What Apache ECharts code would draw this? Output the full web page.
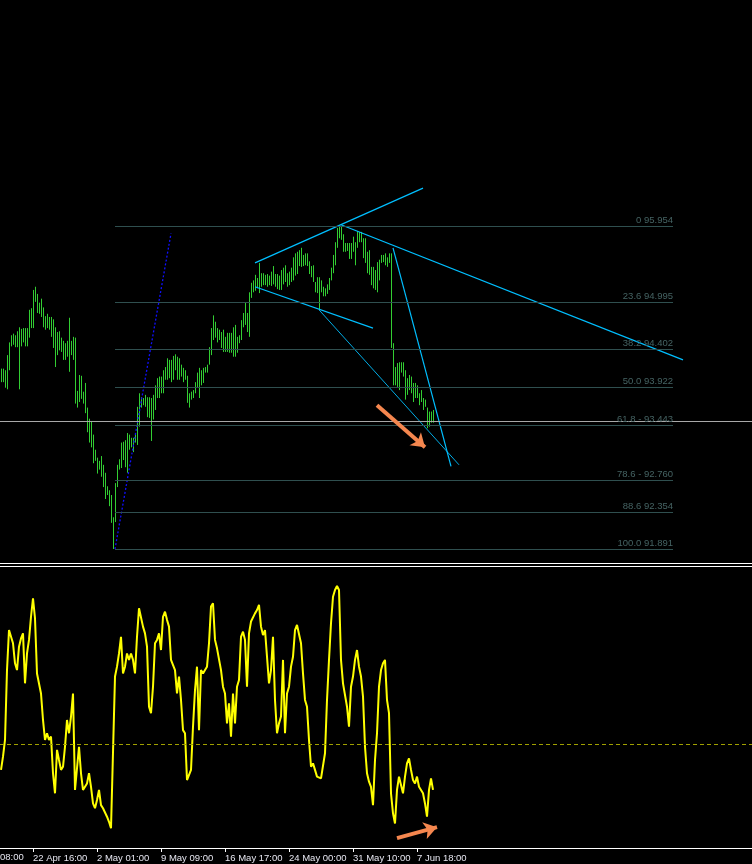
<!DOCTYPE html>
<html>
<head>
<meta charset="utf-8">
<script src="https://cdn.jsdelivr.net/npm/echarts@6/dist/echarts.min.js"></script>
<style>
html,body{margin:0;padding:0;background:#000;}
#chart{width:752px;height:864px;}
</style>
</head>
<body>
<div id="chart"></div>
<script>
// ---- data (bar highs / lows) ----
const barHigh = [
94.16,94.16,94.14,94.33,94.49,94.58,94.60,94.58,94.63,94.68,
94.66,94.67,94.67,94.67,94.90,94.92,95.15,95.19,95.10,94.99,
95.04,94.93,94.82,94.85,94.81,94.81,94.78,94.68,94.62,94.63,
94.55,94.51,94.48,94.51,94.80,94.51,94.56,94.55,93.88,94.08,
94.07,93.87,93.98,93.67,93.53,93.49,93.33,93.14,93.04,93.00,
93.06,92.95,92.85,92.68,92.63,92.57,92.29,92.72,92.95,93.02,
93.23,93.24,93.26,93.35,93.33,93.29,93.29,93.35,93.68,93.85,
93.80,93.79,93.83,93.80,93.80,93.79,93.83,93.95,94.04,94.06,
94.06,94.14,94.18,94.29,94.27,94.27,94.32,94.34,94.31,94.29,
94.21,94.17,94.14,94.07,93.85,93.87,93.89,93.99,94.11,94.17,
94.14,94.17,94.18,94.21,94.43,94.67,94.83,94.75,94.67,94.65,
94.62,94.65,94.56,94.61,94.61,94.61,94.68,94.71,94.56,94.58,
94.77,94.86,94.99,94.86,95.12,95.24,95.27,95.34,95.30,95.49,
95.36,95.36,95.34,95.35,95.33,95.38,95.45,95.35,95.35,95.33,
95.40,95.43,95.46,95.36,95.38,95.43,95.56,95.61,95.63,95.65,
95.68,95.59,95.61,95.61,95.51,95.45,95.46,95.25,95.31,95.31,
95.27,95.19,95.17,95.22,95.30,95.43,95.59,95.75,95.93,95.95,
95.954,95.85,95.74,95.74,95.74,95.74,95.82,95.75,95.89,95.88,
95.88,95.80,95.80,95.63,95.65,95.44,95.44,95.40,95.50,95.53,
95.59,95.59,95.61,95.56,95.61,95.61,94.48,94.18,94.23,94.24,
94.24,94.24,94.14,94.04,94.08,94.06,93.98,93.98,93.95,93.85,
93.89,93.79,93.77,93.67,93.62,93.62,93.64
];
const barLow = [
93.99,93.99,93.92,93.90,94.14,94.44,94.46,94.43,94.43,93.90,
94.44,94.49,94.44,94.44,94.55,94.67,94.67,95.00,94.86,94.85,
94.81,94.68,94.65,94.67,94.65,94.56,94.42,94.18,94.33,94.39,
94.37,94.27,94.27,94.31,94.12,94.33,94.27,93.72,93.67,93.74,
93.78,93.72,93.60,93.36,93.23,93.17,92.97,93.00,92.84,92.89,
92.80,92.67,92.52,92.57,92.43,92.22,91.891,92.23,92.67,92.89,
92.91,93.01,92.92,92.85,93.14,93.17,93.11,93.23,93.20,93.43,
93.67,93.70,93.68,93.55,93.54,93.25,93.52,93.64,93.79,93.79,
93.85,93.85,94.02,94.02,94.04,93.99,94.02,94.14,94.02,94.02,
94.06,93.99,94.02,93.73,93.67,93.77,93.79,93.85,93.92,93.79,
93.95,93.98,94.11,94.11,94.21,94.33,94.52,94.55,94.49,94.52,
94.42,94.37,94.37,94.37,94.36,94.36,94.31,94.31,94.36,94.48,
94.52,94.68,94.71,94.62,94.56,95.05,95.12,95.14,95.17,95.11,
95.19,95.21,95.21,95.19,95.21,95.20,95.22,95.19,95.16,95.15,
95.15,95.22,95.25,95.19,95.21,95.25,95.27,95.33,95.35,95.45,
95.44,95.45,95.46,95.45,95.35,95.31,95.25,95.12,95.11,94.90,
95.12,95.07,95.07,95.10,95.15,95.27,95.36,95.46,95.68,95.80,
95.78,95.63,95.63,95.64,95.54,95.54,95.63,95.46,95.68,95.75,
95.75,95.55,95.49,95.36,95.34,95.21,95.17,95.15,95.12,95.27,
95.49,95.50,95.46,95.44,95.49,94.42,93.95,93.95,93.93,93.89,
94.11,94.06,93.77,93.83,93.89,93.85,93.74,93.79,93.79,93.70,
93.74,93.64,93.68,93.41,93.43,93.48,93.48
];
// oscillator (lower panel) values
const oscValues = [
27.7,32.4,38.3,63.1,77.3,77.9,72.6,65.5,63.1,71.4,
74.3,76.1,58.4,69.0,73.8,82.0,88.5,81.4,61.9,61.3,
54.8,45.4,38.3,40.7,38.3,39.5,26.5,19.4,34.8,31.2,
27.7,28.8,35.9,45.4,40.7,46.6,54.8,20.6,20.6,35.9,
26.5,20.6,20.6,22.9,26.5,21.7,15.8,14.1,17.0,20.6,
15.2,14.1,13.5,11.1,9.3,7.0,7.0,60.8,64.3,69.0,
74.9,61.9,64.3,69.0,66.7,69.0,66.7,61.9,74.9,85.0,
85.0,78.5,76.1,71.4,50.1,47.8,57.2,72.6,73.8,76.1,
70.2,82.0,83.8,80.9,78.5,66.7,66.7,63.1,54.8,60.8,
52.5,41.8,40.7,24.1,24.1,27.7,43.0,56.0,64.3,41.8,
63.1,61.9,63.1,64.3,72.6,85.6,86.8,73.8,70.8,71.4,
63.1,57.2,54.8,44.2,51.3,39.5,54.8,44.2,57.2,59.6,
74.9,76.7,73.8,57.2,76.1,80.3,80.9,83.2,84.4,86.2,
78.5,75.5,77.3,76.7,58.4,63.1,74.9,52.5,40.7,44.2,
46.6,66.7,40.7,54.8,57.2,64.3,67.8,77.3,79.1,79.1,
72.6,61.9,52.5,50.1,38.3,28.8,30.0,27.7,25.3,25.3,
24.7,24.7,33.6,52.5,66.7,79.7,89.1,91.5,92.9,91.5,
66.7,58.4,58.4,50.1,43.0,57.2,60.8,66.7,70.2,64.3,
60.8,53.7,35.9,26.5,23.5,21.7,15.2,31.2,40.7,57.2,
63.1,65.5,66.7,52.5,47.8,19.4,12.3,8.7,20.6,25.3,
25.9,19.4,25.3,30.0,31.8,27.7,24.1,22.9,25.3,21.7,
21.2,19.4,15.8,11.1,20.6,24.7,20.6
];
const oscLevel = 36.9;
const currentPrice = 93.50;

// Fibonacci retracement
const fibLevels = ['0', '23.6', '38.2', '50.0', '61.8', '78.6', '88.6', '100.0'];
const fibPrices = [95.954, 94.995, 94.402, 93.922, 93.443, 92.760, 92.354, 91.891];
const fibSeps   = [' ', ' ', ' ', ' ', ' - ', ' - ', ' ', ' '];
const fibStartIdx = 57, fibEndIdx = 336;

// trend lines [barIndex, price]
const upperChannel = [[127, 95.49], [211, 96.43]];
const lowerChannel = [[127, 95.19], [186, 94.67]];
const longDownLine = [[170, 95.97], [341, 94.27]];
const steepDownLine = [[196, 95.68], [225, 92.93]];
const wedgeLine = [[159, 94.90], [229, 92.95]];
const fibDiagonal = [[57, 91.891], [85, 95.86]];
const priceArrow = [[188, 93.70], [212, 93.17]];
const oscArrow = [[198, 3.5], [218, 7.4]];

// time axis
const slotCount = 376;
const tickIndex = [16, 48, 80, 112, 144, 176, 208];
const tickLabels = ['22 Apr 16:00', '2 May 01:00', '9 May 09:00', '16 May 17:00', '24 May 00:00', '31 May 10:00', '7 Jun 18:00'];
const cutLabel = '08:00';

const cats = [];
for (let i = 0; i < slotCount; i++) cats.push(String(i));

const FONT = 'Liberation Sans';
const chart = echarts.init(document.getElementById('chart'), null, {renderer: 'canvas'});

const cyan = '#00bfff';
function trend(name, data, color, width, type) {
  return {
    name, type: 'line', xAxisIndex: 0, yAxisIndex: 0, data,
    showSymbol: false, symbol: 'none', silent: true, z: 4,
    lineStyle: {color, width, type: type || 'solid'}
  };
}

const fibMark = fibPrices.map((p, k) => [
  {coord: [fibStartIdx, p], name: fibLevels[k] + fibSeps[k] + p.toFixed(3)},
  {coord: [fibEndIdx, p]}
]);

const option = {
  backgroundColor: '#000',
  animation: false,
  textStyle: {fontFamily: FONT},
  grid: [
    {left: 0, right: 0, top: 0, height: 563},
    {left: 0, right: 0, top: 566, height: 282}
  ],
  xAxis: [
    {gridIndex: 0, type: 'category', data: cats, boundaryGap: true,
     axisLine: {show: true, lineStyle: {color: '#ffffff', width: 1}},
     axisTick: {show: false}, axisLabel: {show: false}, splitLine: {show: false}},
    {gridIndex: 1, type: 'category', data: cats, boundaryGap: true, position: 'bottom',
     axisLine: {show: true, lineStyle: {color: '#ffffff', width: 1}},
     axisTick: {show: true, alignWithLabel: true, length: 4, lineStyle: {color: '#ffffff'},
       interval: (idx) => tickIndex.indexOf(idx) >= 0},
     axisLabel: {show: true, align: 'left', margin: 5, color: '#e6e6f0', fontSize: 9.5, fontFamily: FONT,
       interval: (idx) => tickIndex.indexOf(idx) >= 0,
       formatter: (v, idx) => { const k = tickIndex.indexOf(idx); return k >= 0 ? tickLabels[k] : ''; }},
     splitLine: {show: false}},
    {gridIndex: 1, type: 'category', data: cats, boundaryGap: true, position: 'top',
     axisLine: {show: true, lineStyle: {color: '#ffffff', width: 1}},
     axisTick: {show: false}, axisLabel: {show: false}, splitLine: {show: false}}
  ],
  yAxis: [
    {gridIndex: 0, type: 'value', min: 91.715, max: 98.797, show: false},
    {gridIndex: 1, type: 'value', min: 0, max: 100, show: false}
  ],
  graphic: [
    {type: 'text', left: 0, top: 852, silent: true,
     style: {text: cutLabel, fill: '#e6e6f0', font: '9.5px ' + FONT}}
  ],
  series: [
    {
      name: 'bars', type: 'custom', xAxisIndex: 0, yAxisIndex: 0, z: 3,
      data: barHigh.map((h, k) => [k, barLow[k], h]),
      encode: {x: 0, y: [1, 2]},
      renderItem: function (params, api) {
        const i = api.value(0);
        const lo = api.coord([i, api.value(1)]);
        const hi = api.coord([i, api.value(2)]);
        return {type: 'line',
          shape: {x1: lo[0] + 0.5, y1: lo[1], x2: hi[0] + 0.5, y2: hi[1]},
          style: {stroke: '#32cd32', lineWidth: 1}};
      },
      markLine: {
        silent: true, symbol: ['none', 'none'], animation: false,
        lineStyle: {color: '#2f4f4f', width: 1, type: 'solid'},
        label: {show: true, position: 'insideEndTop', distance: [0, 1], color: '#456363',
          fontSize: 9.5, fontFamily: FONT, formatter: (p) => p.name},
        data: fibMark
      }
    },
    Object.assign(trend('current', [], '#a8a8a8', 1), {
      markLine: {silent: true, symbol: ['none', 'none'], label: {show: false},
        lineStyle: {color: '#a8a8a8', width: 1, type: 'solid'},
        data: [{yAxis: currentPrice}]}
    }),
    trend('upperChannel', upperChannel, cyan, 1.2),
    trend('lowerChannel', lowerChannel, cyan, 1.2),
    trend('longDown', longDownLine, cyan, 1.2),
    trend('steepDown', steepDownLine, cyan, 1.2),
    trend('wedge', wedgeLine, cyan, 0.9),
    trend('fibDiagonal', fibDiagonal, '#1010ff', 1.3, [2, 2]),
    Object.assign(trend('arrow1', [], '#f5874f', 4), {
      markLine: {silent: true, symbol: ['none', 'arrow'], symbolSize: [13, 13],
        label: {show: false}, lineStyle: {color: '#f5874f', width: 4, type: 'solid'},
        data: [[{coord: priceArrow[0]}, {coord: priceArrow[1]}]]}
    }),
    {
      name: 'osc', type: 'line', xAxisIndex: 1, yAxisIndex: 1, data: oscValues,
      showSymbol: false, symbol: 'none', z: 3,
      lineStyle: {color: '#ffff00', width: 2},
      markLine: {silent: true, symbol: ['none', 'none'], label: {show: false},
        lineStyle: {color: '#a0a000', width: 1, type: [4, 3]},
        data: [{yAxis: oscLevel}]}
    },
    {
      name: 'arrow2', type: 'line', xAxisIndex: 1, yAxisIndex: 1, data: [], symbol: 'none', z: 5,
      markLine: {silent: true, symbol: ['none', 'arrow'], symbolSize: [13, 13],
        label: {show: false}, lineStyle: {color: '#f5874f', width: 4, type: 'solid'},
        data: [[{coord: oscArrow[0]}, {coord: oscArrow[1]}]]}
    }
  ]
};
chart.setOption(option);
</script>
</body>
</html>
